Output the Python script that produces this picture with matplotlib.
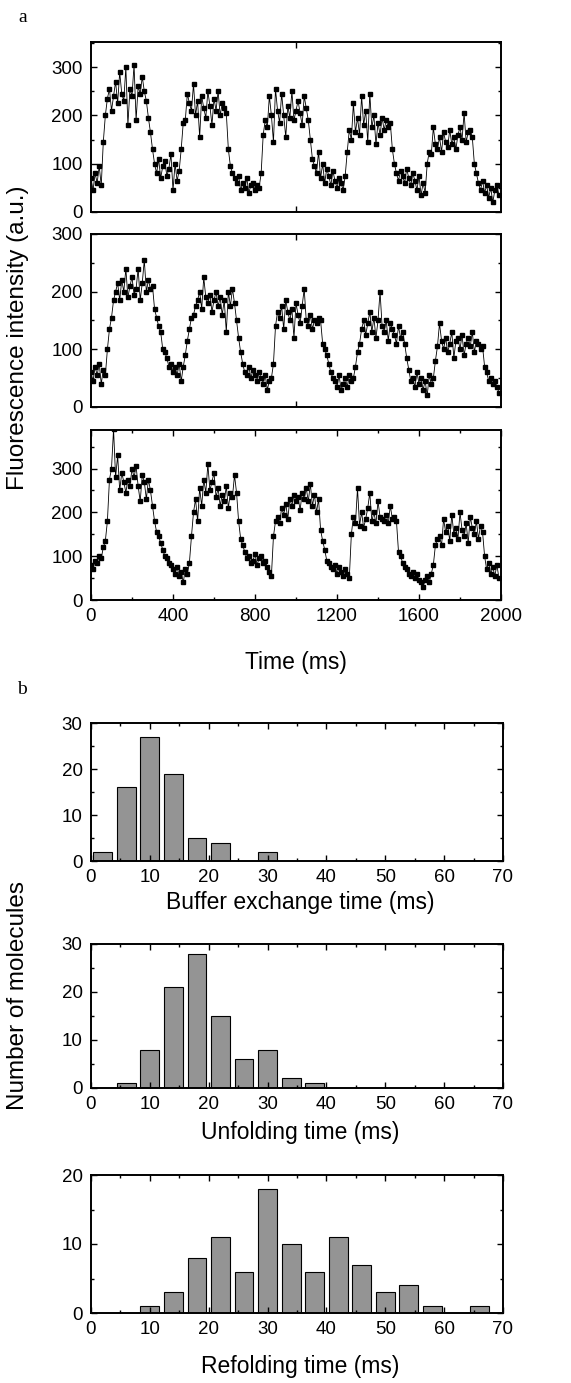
import numpy as np
import matplotlib
matplotlib.use("Agg")
import matplotlib.pyplot as plt
from matplotlib.ticker import MultipleLocator, FixedLocator, NullFormatter

plt.rcParams["font.family"] = ["Liberation Sans", "DejaVu Sans"]

# sampling interval of the traces (ms)
dt = 10

trace_top = [70, 45, 80, 60, 95, 55, 145, 200,
             235, 255, 210, 240, 270, 225, 290, 245, 230, 300, 180, 255, 240, 305, 190, 260, 245, 280, 250,
             230, 195, 165, 130, 100,
             80, 110, 70, 95, 105, 75, 90, 120, 45, 100, 65, 85,
             130, 185,
             190, 245, 225, 210, 265, 200, 230, 155, 240, 215, 195, 250, 220, 180, 235, 210, 250, 200, 225, 215, 205,
             130, 95,
             80, 70, 60, 75, 45, 60, 50, 70, 40, 55, 60, 45, 55, 50,
             80, 160, 190,
             175, 240, 200, 145, 255, 210, 185, 245, 200, 155, 220, 195, 250, 190, 210, 230, 205, 180, 240, 215,
             190, 150, 110,
             95, 80, 125, 70, 100, 60, 90, 75, 55, 85, 65, 50, 70, 60, 45,
             75, 125, 170,
             150, 225, 165, 195, 160, 240, 180, 210, 145, 245, 175, 200, 140, 185, 160, 195, 170, 190, 175,
             185, 130, 100,
             80, 65, 85, 75, 60, 90, 70, 55, 80, 65, 45, 75, 35, 60, 40,
             100, 125,
             120, 175, 140, 130, 155, 125, 165, 145, 135, 170, 140, 155, 130, 160, 175, 150, 205, 145, 165, 170, 155,
             100, 80, 60,
             45, 65, 40, 55, 30, 50, 20, 45, 55, 35]

trace_mid = [60, 45, 70, 55, 75, 40, 65, 55,
             100, 135, 155, 185,
             200, 215, 185, 220, 200, 240, 190, 210, 225, 195, 205, 240, 185, 215, 255, 200, 220, 205, 210,
             170, 155, 140, 130, 100, 95, 85, 70, 75, 60, 70, 55, 75, 45,
             70, 90, 115, 135, 155, 160, 175,
             185, 200, 170, 225, 190, 180, 195, 165, 185, 200, 175, 190, 160, 185, 130, 200, 175, 205, 180,
             150, 120, 95, 75,
             60, 55, 70, 50, 65, 55, 45, 60, 50, 40, 55, 30, 45, 50,
             75, 140, 165,
             155, 175, 135, 185, 165, 150, 170, 120, 180, 160, 145, 175, 205, 150, 140, 160, 135, 150, 145, 155, 150,
             110, 100, 90, 75, 60, 50,
             45, 35, 55, 30, 40, 50, 35, 55, 45, 50,
             70, 95, 110, 135,
             150, 125, 145, 165, 130, 155, 120, 150, 200, 140, 130, 150, 115, 145, 135, 125, 110, 140, 120, 130,
             110, 85, 65, 45,
             50, 35, 60, 40, 50, 30, 45, 20, 55, 40, 50,
             80, 105,
             145, 115, 100, 120, 95, 110, 130, 85, 115, 120, 100, 125, 90, 110, 120, 105, 130, 95, 115, 110, 100, 105,
             70, 60, 45, 50, 40, 45, 35, 25]

trace_bot = [80, 70, 90, 85, 100, 95,
             120, 135, 180, 275,
             300, 390, 280, 330, 250, 290, 270, 245, 275, 260, 300, 280, 305, 260, 225, 285, 270, 230, 275, 250,
             215, 180, 155, 145, 130, 115, 100, 95, 85, 80, 70, 60, 75, 55, 65,
             40, 70, 60, 85,
             145, 200,
             230, 180, 255, 215, 275, 245, 310, 250, 270, 290, 235, 255, 215, 240, 225, 260, 210, 245, 235, 285, 245,
             180, 140, 125, 110, 95, 100, 85,
             90, 105, 80, 95, 100, 85, 90, 75, 65, 55,
             145, 180,
             190, 175, 210, 195, 220, 185, 230, 215, 240, 225, 235, 205, 245, 230, 255, 225, 265, 215, 240, 200, 230,
             160, 135, 115, 90, 85, 75,
             70, 80, 60, 75, 65, 55, 70, 60, 50,
             150, 190,
             175, 255, 170, 200, 165, 185, 210, 245, 180, 200, 175, 225, 190, 185, 180, 195, 175, 215, 185, 190, 180,
             110, 100, 85, 75, 70, 60, 55,
             65, 50, 60, 45, 40, 30, 45, 55, 40, 60,
             80, 125, 140,
             145, 125, 185, 155, 170, 135, 195, 150, 165, 140, 200, 160, 145, 175, 130, 190, 165, 150, 180, 140, 170, 155,
             100, 70, 85, 60, 75, 55, 80, 50]

# histogram bins (ms)
bin_centres = [2, 6, 10, 14, 18, 22, 26, 30, 34, 38, 42, 46, 50, 54, 58, 62, 66]
buffer_counts = [2, 16, 27, 19, 5, 4, 0, 2, 0, 0, 0, 0, 0, 0, 0, 0, 0]
unfold_counts = [0, 1, 8, 21, 28, 15, 6, 8, 2, 1, 0, 0, 0, 0, 0, 0, 0]
refold_counts = [0, 0, 1, 3, 8, 11, 6, 18, 10, 6, 11, 7, 3, 4, 1, 0, 1]


def style(ax):
    for s in ax.spines.values():
        s.set_linewidth(1.4)
    ax.tick_params(which="both", direction="in", top=True, right=True,
                   labelsize=13.5, pad=6, width=1.0)
    ax.tick_params(which="major", length=4)
    ax.tick_params(which="minor", length=2.5)


W, H = 571, 1383
fig = plt.figure(figsize=(W / 100, H / 100), dpi=100)


def px_axes(left, right, top, bottom):
    return fig.add_axes([left / W, 1 - bottom / H, (right - left) / W, (bottom - top) / H])


# ---- panel a: fluorescence traces ----
traces = [trace_top, trace_mid, trace_bot]
boxes = [(42, 212), (234, 407), (430, 600)]
ytops = [352, 300, 388]
for k, (tr, (top, bot), ytop) in enumerate(zip(traces, boxes, ytops)):
    ax = px_axes(91, 501, top, bot)
    t = np.arange(len(tr)) * dt
    ax.plot(t, tr, "-", color="k", lw=0.6, marker="s", ms=2.8, mfc="k", mec="k")
    ax.set_xlim(0, 2000)
    ax.set_ylim(0, ytop)
    ax.yaxis.set_major_locator(MultipleLocator(100))
    ax.yaxis.set_minor_locator(MultipleLocator(50))
    if k < 2:
        ax.xaxis.set_major_locator(FixedLocator([1000]))
        ax.xaxis.set_major_formatter(NullFormatter())
    else:
        ax.xaxis.set_major_locator(MultipleLocator(400))
        ax.xaxis.set_minor_locator(MultipleLocator(200))
    style(ax)

fig.text(296 / W, 1 - 663 / H, "Time (ms)", ha="center", va="center", fontsize=16.5)
fig.text(18 / W, 1 - 338 / H, "Fluorescence intensity (a.u.)", rotation=90,
         ha="center", va="center", fontsize=17.5)

# ---- panel b: histograms ----
hists = [buffer_counts, unfold_counts, refold_counts]
hboxes = [(723, 861), (944, 1088), (1175, 1313)]
hytops = [30, 30, 20]
xlabels = ["Buffer exchange time (ms)", "Unfolding time (ms)", "Refolding time (ms)"]
xlab_y = [903, 1132, 1366]
for counts, (top, bot), ytop, lab, ly in zip(hists, hboxes, hytops, xlabels, xlab_y):
    ax = px_axes(91, 503, top, bot)
    ax.bar(bin_centres, counts, width=3.2, color="#949494", edgecolor="k", linewidth=0.8)
    ax.set_xlim(0, 70)
    ax.set_ylim(0, ytop)
    ax.xaxis.set_major_locator(MultipleLocator(10))
    ax.xaxis.set_minor_locator(MultipleLocator(5))
    ax.yaxis.set_major_locator(MultipleLocator(10))
    ax.yaxis.set_minor_locator(MultipleLocator(5))
    style(ax)
    fig.text(300 / W, 1 - ly / H, lab, ha="center", va="center", fontsize=16.5)

fig.text(18 / W, 1 - 995 / H, "Number of molecules", rotation=90,
         ha="center", va="center", fontsize=17.5)

# panel letters
fig.text(23 / W, 1 - 17 / H, "a", ha="center", va="center", fontsize=14, family="Liberation Serif")
fig.text(22 / W, 1 - 690 / H, "b", ha="center", va="center", fontsize=14, family="Liberation Serif")

fig.savefig("out.png", dpi=100)
